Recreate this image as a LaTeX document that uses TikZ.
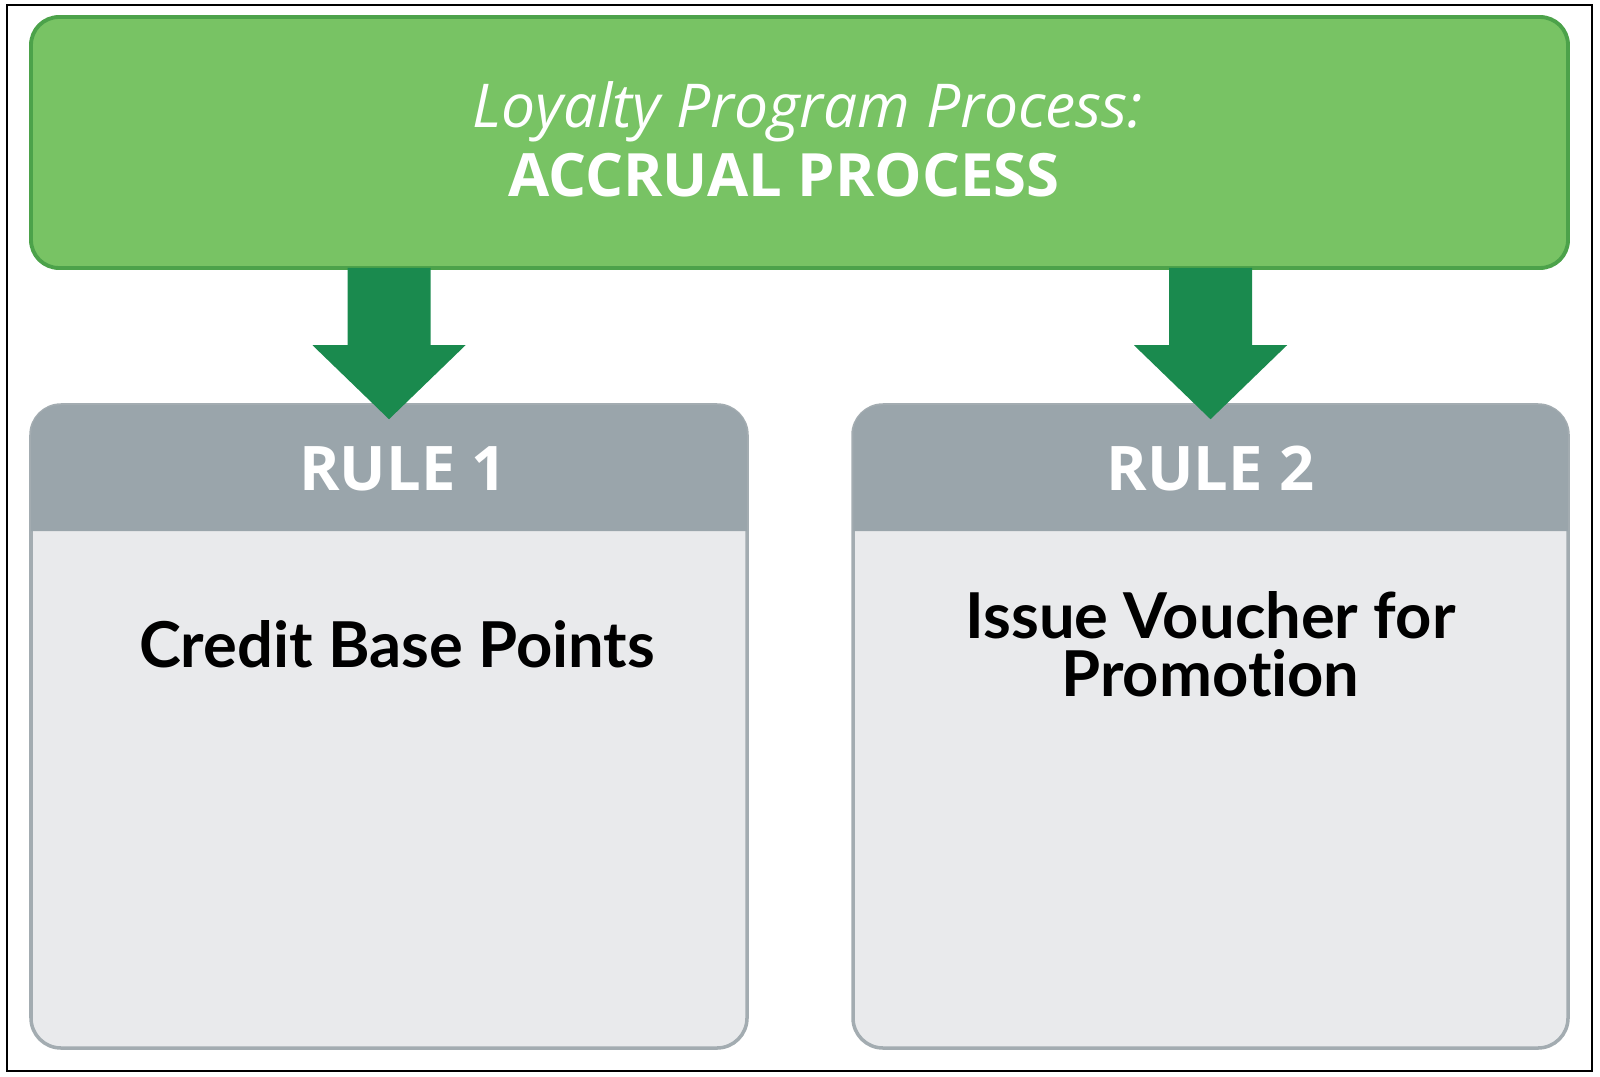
\documentclass[tikz,border=0pt]{standalone}
\usepackage{fontspec}
\setmainfont{Open Sans}
\newfontfamily\bodyfont[Ligatures=NoCommon]{Lato}
\usetikzlibrary{calc}
\definecolor{leaf}{HTML}{78C364}
\definecolor{leafdark}{HTML}{4CA24A}
\definecolor{forest}{HTML}{1A8A4E}
\definecolor{slate}{HTML}{9AA5AB}
\definecolor{slatelight}{HTML}{E9EAEC}
\definecolor{slateedge}{HTML}{A3ACB1}

\tikzset{
  processbox/.style={draw=leafdark, fill=leaf, line width=1.1pt, rounded corners=0.28cm,
                     minimum width=15.37cm, minimum height=2.51cm, inner sep=0pt},
  rulebox/.style={draw=slateedge, fill=slatelight, line width=1pt, rounded corners=0.3cm,
                  minimum width=7.16cm, minimum height=6.43cm, inner sep=0pt},
  headtext/.style={text=white, font=\fontsize{17.5}{21}\selectfont\bfseries, inner sep=0pt, anchor=base},
  bodytext/.style={text=black, font=\bodyfont\fontsize{18}{16.5}\selectfont\bfseries, inner sep=0pt, align=center}
}

\begin{document}
\begin{tikzpicture}
  \useasboundingbox (0,0) rectangle (16,10.76);
  \draw[black, line width=0.8pt] (0.07,0.05) rectangle (15.92,10.71);

  % top bar
  \node[processbox] (process) at (7.995,9.335) {};
  \node[text=white, font=\fontsize{17.2}{21}\selectfont\itshape, inner sep=0pt, anchor=base]
       (title) at (8.08,9.48) {Loyalty Program Process:};
  \node[headtext, font=\fontsize{17}{21}\selectfont\bfseries] (accrual) at (7.84,8.79) {ACCRUAL PROCESS};

  % rule boxes
  \node[rulebox] (r1) at (3.89,3.495) {};
  \node[rulebox, minimum width=7.15cm] (r2) at (12.105,3.495) {};
  \foreach \r in {r1,r2}{
    \fill[slate] ($(\r.north west)+(0.02,-1.28)$) [rounded corners=0.28cm] -- ($(\r.north west)+(0.02,-0.02)$)
          -- ($(\r.north east)+(-0.02,-0.02)$) [sharp corners] -- ($(\r.north east)+(-0.02,-1.28)$) -- cycle;
  }
  \node[headtext] (h1) at ($(r1.north)+(0.14,-0.87)$) {RULE 1};
  \node[headtext] (h2) at ($(r2.north)+(0.0,-0.87)$) {RULE 2};
  \node[bodytext, anchor=base] (b1) at ($(r1.north)+(0.08,-2.64)$) {Credit Base Points};
  \node[bodytext, anchor=base] (b2) at ($(r2.north)+(0.0,-2.93)$) {Issue Voucher for\\Promotion};

  % arrows
  \foreach \r in {r1,r2}{
    \fill[forest] ($(process.south -| \r.north)+(-0.415,0.02)$) -- ($(process.south -| \r.north)+(0.415,0.02)$)
          -- ($(\r.north)+(0.415,0.58)$) -- ($(\r.north)+(0.765,0.58)$) -- ($(\r.north)+(0,-0.16)$)
          -- ($(\r.north)+(-0.765,0.58)$) -- ($(\r.north)+(-0.415,0.58)$) -- cycle;
  }
\end{tikzpicture}
\end{document}
